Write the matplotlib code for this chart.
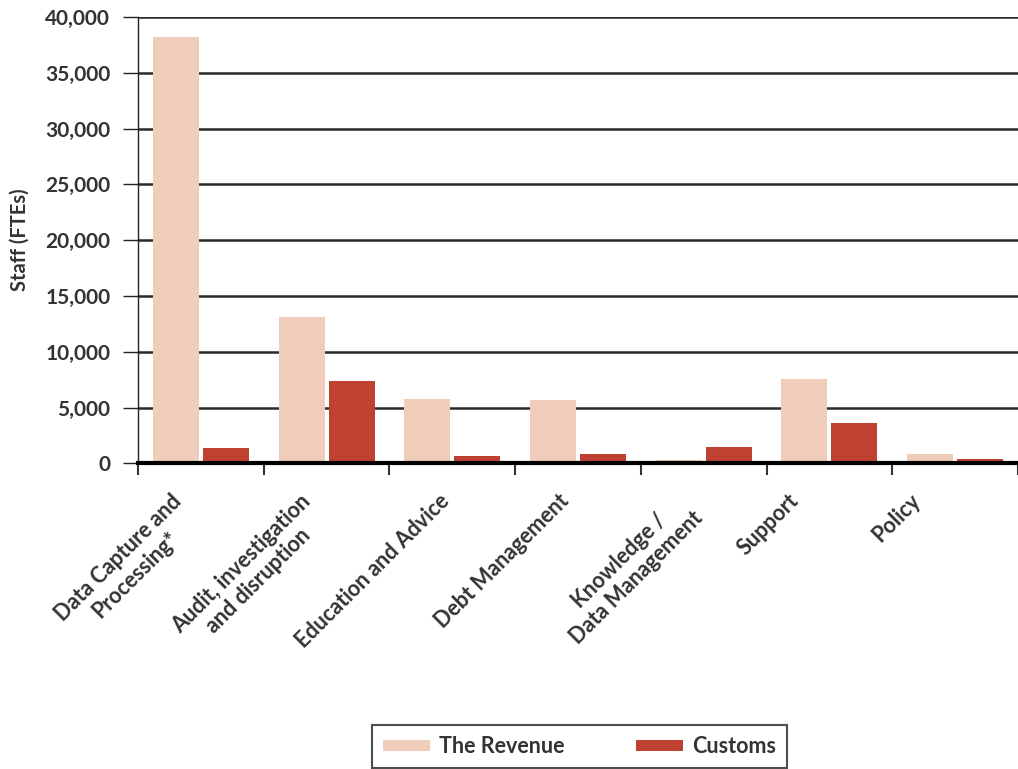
import matplotlib.pyplot as plt
from matplotlib.transforms import ScaledTranslation
import numpy as np

categories = ["Data Capture and\nProcessing*", "Audit, investigation\nand disruption",
              "Education and Advice", "Debt Management", "Knowledge /\nData Management",
              "Support", "Policy"]
revenue = [38200, 13130, 5760, 5670, 320, 7550, 830]
customs = [1370, 7370, 660, 830, 1460, 3610, 390]
yticks = [0, 5000, 10000, 15000, 20000, 25000, 30000, 35000, 40000]

plt.rcParams['font.family'] = ['Lato', 'DejaVu Sans']
plt.rcParams['font.weight'] = 'bold'
txt = '#333333'
wt = 'bold'

fig = plt.figure(figsize=(10.18, 7.69), dpi=100)
ax = fig.add_axes([0.1356, 0.3975, 0.8644, 0.5805])

x = np.arange(len(categories))
w = 0.366
ax.bar(x - 0.199, revenue, w, color='#EFCDBA', label='The Revenue', zorder=3)
ax.bar(x + 0.199, customs, w, color='#BE4131', label='Customs', zorder=3)

ax.set_xlim(-0.5, len(categories) - 0.5)
ax.set_ylim(0, 40000)
ax.set_yticks(yticks)
ax.set_yticklabels([f"{v:,}" for v in yticks], fontsize=15, color=txt, fontweight=wt)
ax.tick_params(axis='y', length=11, width=1, color='#222222', pad=9)

# x ticks sit on category boundaries
ax.set_xticks(np.arange(-0.5, len(categories) + 0.5, 1))
ax.set_xticklabels([])
ax.tick_params(axis='x', length=8.5, width=1.5, color='#333333')

# rotated category labels, placed like the original
renderer = fig.canvas.get_renderer()
for i, lab in enumerate(categories):
    t = ax.text(i, 0, lab, transform=ax.get_xaxis_transform(), ha='right', va='center',
                multialignment='center', fontsize=15.5, color=txt, fontweight=wt,
                rotation_mode='anchor')
    bb = t.get_window_extent(renderer)
    dx = -50 + 0.21 * bb.width
    dy = -(27 + 0.354 * bb.height)
    t.set_rotation(45)
    t.set_transform(ax.get_xaxis_transform() + ScaledTranslation(dx / 100, dy / 100, fig.dpi_scale_trans))

ax.set_ylabel("Staff (FTEs)", fontsize=14.5, color=txt, fontweight=wt, labelpad=11)

ax.grid(axis='y', color='#2a2a2a', linewidth=1.8, zorder=0)
ax.set_axisbelow(True)
for s in ['top', 'right']:
    ax.spines[s].set_visible(False)
ax.spines['left'].set_linewidth(1)
ax.spines['left'].set_color('#222222')
ax.spines['bottom'].set_linewidth(3)
ax.spines['bottom'].set_color('black')
ax.spines['bottom'].set_zorder(4)

leg = fig.legend(loc='lower center', bbox_to_anchor=(0.569, 0.0), ncol=2, frameon=True,
                 fancybox=False, edgecolor='#222222', fontsize=15.5, handlelength=2.2,
                 handleheight=0.45, handletextpad=0.42, columnspacing=3.3,
                 borderpad=0.5, borderaxespad=0.05)
for t in leg.get_texts():
    t.set_color(txt)
leg.get_frame().set_linewidth(1.5)

fig.savefig('out.png', dpi=100)
